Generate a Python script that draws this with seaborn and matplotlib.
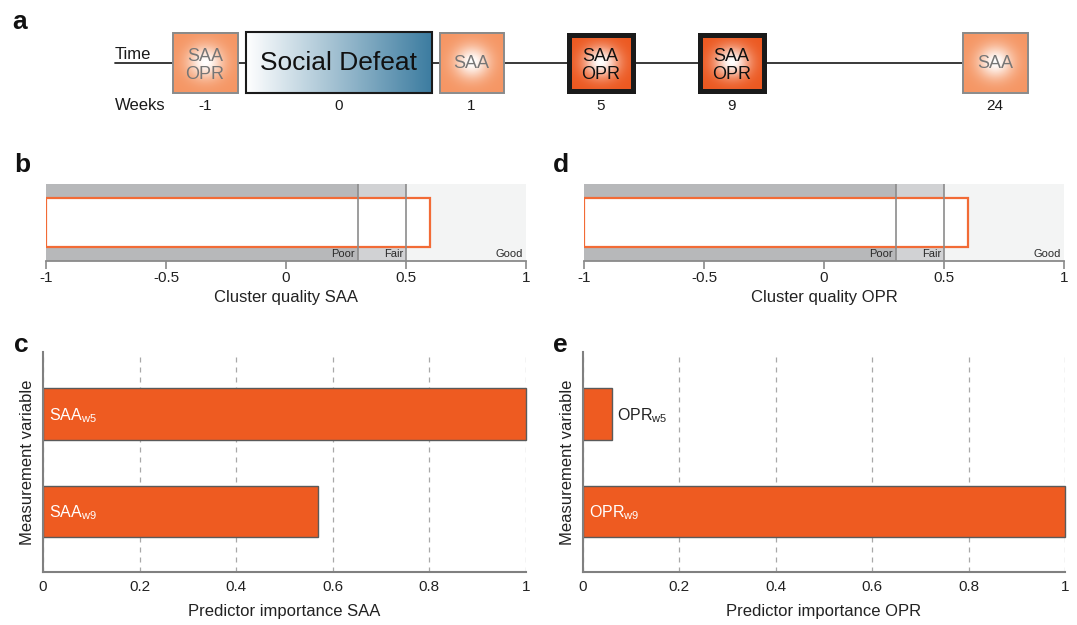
import numpy as np
import pandas as pd
import matplotlib
matplotlib.use("Agg")
import matplotlib.pyplot as plt
from matplotlib.patches import Rectangle
import seaborn as sns

# ---------------- data ----------------
week_labels = ["-1", "0", "1", "5", "9", "24"]
box_texts = ["SAA\nOPR", "Social Defeat", "SAA", "SAA\nOPR", "SAA\nOPR", "SAA"]
box_kinds = ["light", "defeat", "light", "dark", "dark", "light"]

quality_bounds = [-1, 0.3, 0.5, 1]
quality_names = ["Poor", "Fair", "Good"]
cluster_quality_saa = 0.6
cluster_quality_opr = 0.6
quality_ticks = [-1, -0.5, 0, 0.5, 1]
quality_ticklabels = ["-1", "-0.5", "0", "0.5", "1"]

saa_vars = ["SAA$_{w5}$", "SAA$_{w9}$"]
saa_importance = [1.0, 0.57]
opr_vars = ["OPR$_{w5}$", "OPR$_{w9}$"]
opr_importance = [0.06, 1.0]
importance_ticks = [0, 0.2, 0.4, 0.6, 0.8, 1]
importance_ticklabels = ["0", "0.2", "0.4", "0.6", "0.8", "1"]

# ---------------- layout (pixels of the 1077x625 canvas) ----------------
W, H = 1077, 625
box_left = [172, 246, 439, 566, 697, 962]
box_right = [238, 432, 504, 635, 766, 1028]
box_top, box_bottom = 32, 93

sns.set_theme(style="white")
plt.rcParams["font.family"] = ["Liberation Sans", "DejaVu Sans"]
plt.rcParams["mathtext.fontset"] = "custom"
plt.rcParams["mathtext.rm"] = "Liberation Sans"
plt.rcParams["mathtext.it"] = "Liberation Sans"
plt.rcParams["mathtext.default"] = "regular"

fig = plt.figure(figsize=(W / 100, H / 100), dpi=100)
fig.patch.set_facecolor("white")


def frac_axes(left, top, right, bottom):
    return fig.add_axes([left / W, 1 - bottom / H, (right - left) / W, (bottom - top) / H])


# ---------------- panel a : timeline ----------------
axa = fig.add_axes([0, 1 - 130 / H, 1, 130 / H])
axa.set_xlim(0, W)
axa.set_ylim(130, 0)
axa.axis("off")

axa.plot([115, box_left[-1]], [63, 63], color="#2a2a2a", lw=1.3, zorder=1)
axa.text(115, 59, "Time", ha="left", va="baseline", fontsize=12, color="#1a1a1a")
axa.text(115, 106, "Weeks", ha="left", va="center", fontsize=12, color="#1a1a1a")

n = 64
gy, gx = np.mgrid[-1:1:n * 1j, -1:1:n * 1j]
r = np.sqrt(gx ** 2 + gy ** 2)
f = 1 - np.exp(-(r / 0.55) ** 2)

colors = {"light": np.array([245, 150, 100]) / 255, "dark": np.array([236, 88, 32]) / 255}
for x0, x1, txt, kind, wk in zip(box_left, box_right, box_texts, box_kinds, week_labels):
    cx = (x0 + x1) / 2
    cy = (box_top + box_bottom) / 2
    if kind == "defeat":
        t = np.linspace(0, 1, 256)[None, :]
        c0 = np.array([1.0, 1.0, 1.0])
        c1 = np.array([60, 124, 160]) / 255
        img = (c0[None, None, :] * (1 - t[..., None]) + c1[None, None, :] * t[..., None])
        img = np.repeat(img, 4, axis=0)
        axa.imshow(img, extent=(x0, x1, box_bottom, box_top), aspect="auto",
                   interpolation="bilinear", zorder=2)
        axa.add_patch(Rectangle((x0, box_top), x1 - x0, box_bottom - box_top, fill=False,
                                edgecolor="#1a1a1a", lw=1.5, zorder=3))
        axa.text(cx, cy + 1, txt, ha="center", va="center",
                 fontsize=19, color="#111111", zorder=4)
    else:
        base = colors[kind]
        img = (1 - f[..., None]) * np.array([1.0, 1.0, 1.0]) + f[..., None] * base
        if kind == "dark":
            inset = 2.5
            lw, ec, tc = 3.6, "#1a1a1a", "#111111"
        else:
            inset = 0.5
            lw, ec, tc = 1.4, "#8a8a8a", "#767676"
        axa.imshow(img, extent=(x0 + inset, x1 - inset, box_bottom - inset, box_top + inset),
                   aspect="auto", interpolation="bilinear", zorder=2)
        axa.add_patch(Rectangle((x0 + inset, box_top + inset), x1 - x0 - 2 * inset,
                                box_bottom - box_top - 2 * inset, fill=False,
                                edgecolor=ec, lw=lw, zorder=3, joinstyle="miter"))
        lines = txt.split("\n")
        if len(lines) == 1:
            axa.text(cx, cy + 1, txt, ha="center", va="center",
                     fontsize=13, color=tc, zorder=4)
        else:
            axa.text(cx, cy - 1.5, lines[0], ha="center", va="baseline",
                     fontsize=13, color=tc, zorder=4)
            axa.text(cx, cy + 16.5, lines[1], ha="center", va="baseline",
                     fontsize=13, color=tc, zorder=4)
    axa.text(cx, 106, wk, ha="center", va="center", fontsize=11, color="#1a1a1a")
axa.set_xlim(0, W)
axa.set_ylim(130, 0)


# ---------------- panels b, d : cluster quality ----------------
def quality_panel(ax, value, xlabel):
    shades = ["#B7B8BA", "#D1D2D4", "#F3F4F4"]
    for lo, hi, c, name in zip(quality_bounds[:-1], quality_bounds[1:], shades, quality_names):
        ax.axvspan(lo, hi, color=c, lw=0, zorder=0)
        ax.text(hi - 0.012, 0.025, name, ha="right", va="bottom", fontsize=8,
                color="#2a2a2a", zorder=5)
    ax.barh([0.5], [value - quality_bounds[0]], left=quality_bounds[0], height=0.64,
            color="white", edgecolor="#F26B36", linewidth=1.6, zorder=2)
    for b in quality_bounds[1:-1]:
        ax.axvline(b, color="#8C8C8C", lw=1.2, zorder=3)
    ax.set_xlim(quality_bounds[0], quality_bounds[-1])
    ax.set_ylim(0, 1)
    ax.set_yticks([])
    ax.set_xticks(quality_ticks, quality_ticklabels)
    for s in ["top", "left", "right"]:
        ax.spines[s].set_visible(False)
    ax.spines["bottom"].set_color("#8a8a8a")
    ax.spines["bottom"].set_linewidth(1.3)
    ax.tick_params(axis="x", direction="out", length=6, width=1.2, color="#8a8a8a",
                   labelsize=11, labelcolor="#222222", pad=1, bottom=True)
    ax.set_xlabel(xlabel, fontsize=12, color="#222222", labelpad=4)


axb = frac_axes(46, 184, 526, 261)
quality_panel(axb, cluster_quality_saa, "Cluster quality SAA")
axd = frac_axes(584, 184, 1064, 261)
quality_panel(axd, cluster_quality_opr, "Cluster quality OPR")


# ---------------- panels c, e : predictor importance ----------------
def importance_panel(ax, names, values, xlabel):
    df = pd.DataFrame({"variable": names, "importance": values})
    sns.barplot(data=df, x="importance", y="variable", orient="h", color="#EE5B21",
                saturation=1, edgecolor="#5A5A5A", linewidth=1.0, width=0.53,
                errorbar=None, ax=ax, zorder=2)
    for p in ax.patches:
        p.set_clip_on(False)
    for i, (nm, v) in enumerate(zip(names, values)):
        if v > 0.3:
            ax.text(0.013, i + 0.06, nm, color="white", fontsize=11.5, ha="left",
                    va="baseline", zorder=4)
        else:
            ax.text(v + 0.01, i + 0.06, nm, color="#222222", fontsize=11.5, ha="left",
                    va="baseline", zorder=4)
    ax.set_xlim(0, 1)
    ax.set_ylim(1.62, -0.635)
    ax.set_yticks([])
    ax.set_xticks(importance_ticks, importance_ticklabels)
    ax.xaxis.grid(True, linestyle=(0, (4, 4)), color="#A8A8A8", lw=0.9)
    ax.set_axisbelow(True)
    for s in ["top", "right"]:
        ax.spines[s].set_visible(False)
    for s in ["left", "bottom"]:
        ax.spines[s].set_color("#808080")
        ax.spines[s].set_linewidth(1.5)
    ax.tick_params(axis="x", length=0, labelsize=11, labelcolor="#222222", pad=6)
    ax.set_xlabel(xlabel, fontsize=12, color="#222222", labelpad=7)
    ax.set_ylabel("Measurement variable", fontsize=12, color="#222222", labelpad=6)


axc = frac_axes(43, 352, 526, 572)
importance_panel(axc, saa_vars, saa_importance, "Predictor importance SAA")
axe = frac_axes(583, 352, 1065, 572)
importance_panel(axe, opr_vars, opr_importance, "Predictor importance OPR")

# ---------------- panel letters ----------------
for letter, x, y in [("a", 12, 29), ("b", 14, 172), ("c", 14, 352), ("d", 553, 172), ("e", 553, 352)]:
    fig.text(x / W, 1 - y / H, letter, fontsize=19, fontweight="bold", ha="left",
             va="baseline", color="#111111")

fig.savefig("out.png", dpi=100, facecolor="white")
